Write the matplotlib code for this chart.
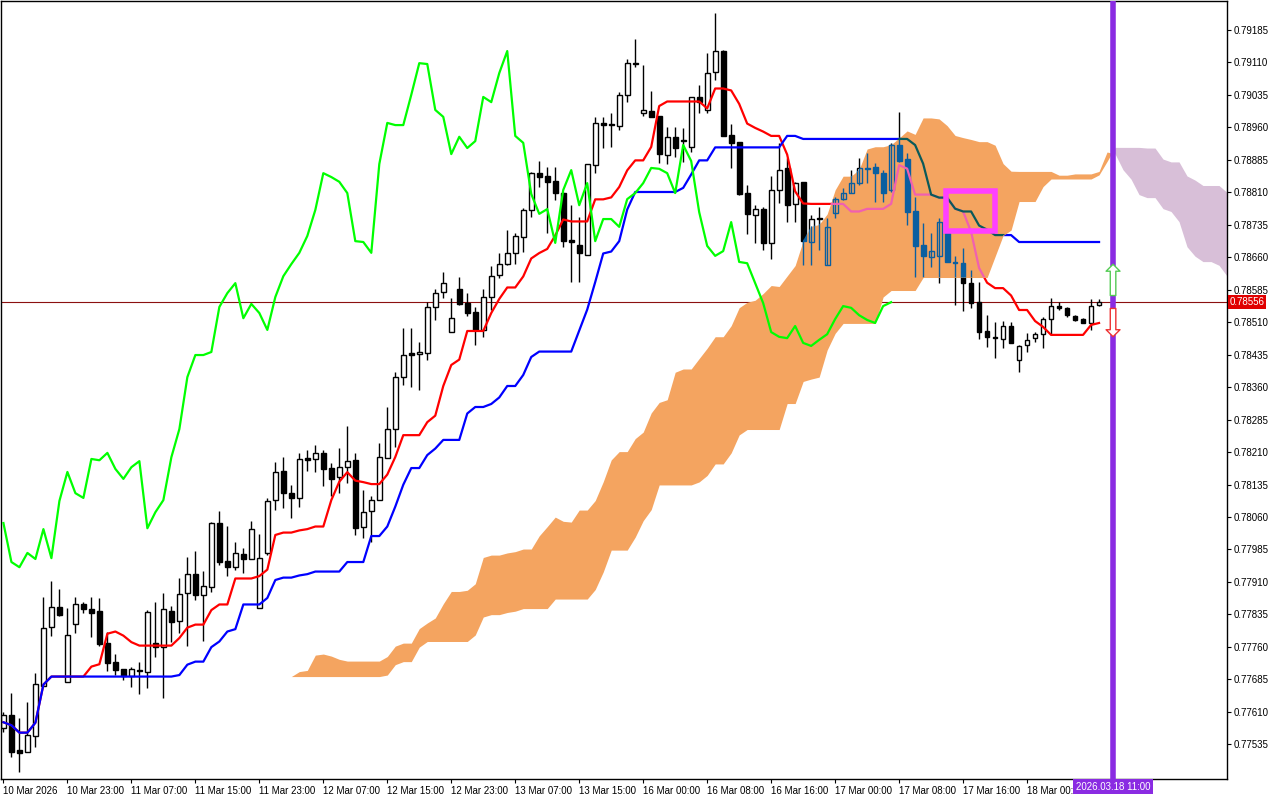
import numpy as np
import pandas as pd
import matplotlib
matplotlib.use("Agg")
import matplotlib.pyplot as plt
from matplotlib.path import Path
from matplotlib.patches import Rectangle

# hourly candles, prices in 1e-5 units
opens = [77572, 77602, 77521, 77517, 77554, 77669, 77806, 77852, 77679, 77813,
         77859, 77847, 77843, 77769, 77725, 77709, 77692, 77706, 77702, 77769,
         77759, 77843, 77819, 77884, 77928, 77880, 77898, 78046, 77958, 77944,
         77974, 77963, 77850, 77977, 78099, 78166, 78115, 78104, 78196, 78194,
         78208, 78173, 78152, 78175, 78191, 78037, 78074, 78099, 78196, 78263,
         78383, 78439, 78436, 78439, 78545, 78579, 78487, 78586, 78554, 78533,
         78492, 78568, 78619, 78644, 78670, 78707, 78769, 78854, 78847, 78836,
         78808, 78700, 78688, 78665, 78873, 78970, 78968, 78963, 79035, 79108,
         78993, 78998, 78986, 78896, 78938, 78931, 78914, 79030, 79000, 79088,
         79136, 78942, 78926, 78808, 78757, 78771, 78693, 78815, 78866, 78783,
         78834, 78695, 78750, 78642, 78762, 78794, 78808, 78831, 78866, 78868,
         78854, 78815, 78919, 78887, 78767, 78688, 78660, 78663, 78716, 78649,
         78646, 78600, 78556, 78489, 78476, 78471, 78501, 78422, 78457, 78473,
         78482, 78517, 78547, 78543, 78524, 78517, 78508, 78549]
highs = [77609, 77653, 77595, 77632, 77699, 77875, 77912, 77893, 77850, 77875,
         77863, 77875, 77873, 77794, 77743, 77709, 77713, 77725, 77845, 77863,
         77884, 77854, 77919, 77967, 77981, 77935, 78048, 78074, 78039, 78002,
         77988, 78050, 78020, 78104, 78187, 78198, 78134, 78208, 78214, 78226,
         78214, 78184, 78219, 78270, 78208, 78122, 78108, 78231, 78314, 78395,
         78496, 78496, 78464, 78556, 78586, 78626, 78566, 78614, 78577, 78545,
         78586, 78640, 78670, 78723, 78716, 78774, 78857, 78882, 78868, 78868,
         78810, 78780, 78753, 78875, 78984, 78984, 78993, 79041, 79118, 79164,
         79104, 79044, 78986, 78961, 78961, 78958, 79030, 79058, 79132, 79224,
         79138, 78968, 78926, 78827, 78780, 78776, 78847, 78924, 78889, 78834,
         78834, 78757, 78776, 78750, 78799, 78820, 78861, 78889, 78901, 78877,
         78861, 78924, 78995, 78901, 78799, 78739, 78716, 78750, 78716, 78663,
         78681, 78630, 78603, 78526, 78510, 78512, 78510, 78457, 78485, 78487,
         78522, 78566, 78556, 78545, 78526, 78519, 78563, 78563]
lows = [77563, 77505, 77471, 77517, 77528, 77669, 77785, 77831, 77679, 77792,
        77838, 77783, 77762, 77704, 77695, 77683, 77667, 77651, 77665, 77736,
        77642, 77771, 77792, 77762, 77868, 77773, 77886, 77949, 77923, 77937,
        77930, 77963, 77850, 77972, 78076, 78081, 78057, 78083, 78166, 78164,
        78131, 78108, 78115, 78138, 78018, 78011, 78002, 78099, 78196, 78221,
        78365, 78360, 78353, 78422, 78515, 78566, 78487, 78549, 78524, 78457,
        78476, 78538, 78612, 78642, 78644, 78672, 78753, 78822, 78716, 78792,
        78683, 78603, 78603, 78665, 78854, 78912, 78914, 78954, 79018, 79099,
        78986, 78984, 78877, 78875, 78891, 78880, 78903, 78993, 78993, 79069,
        78940, 78866, 78804, 78713, 78693, 78676, 78656, 78785, 78741, 78741,
        78642, 78642, 78676, 78642, 78750, 78792, 78808, 78827, 78831, 78787,
        78787, 78810, 78880, 78734, 78614, 78614, 78637, 78600, 78649, 78549,
        78536, 78543, 78471, 78452, 78427, 78450, 78462, 78395, 78441, 78464,
        78450, 78480, 78538, 78522, 78512, 78508, 78492, 78547]
closes = [77602, 77517, 77515, 77556, 77674, 77803, 77852, 77833, 77787, 77859,
          77847, 77838, 77766, 77722, 77706, 77692, 77709, 77704, 77840, 77759,
          77847, 77817, 77882, 77928, 77880, 77900, 78046, 77956, 77944, 77977,
          77963, 78032, 77965, 78097, 78164, 78115, 78104, 78194, 78191, 78208,
          78171, 78148, 78175, 78189, 78034, 78071, 78099, 78198, 78263, 78383,
          78434, 78434, 78441, 78545, 78577, 78600, 78519, 78552, 78531, 78492,
          78568, 78616, 78644, 78670, 78709, 78769, 78854, 78845, 78834, 78808,
          78697, 78695, 78670, 78875, 78970, 78965, 78965, 79035, 79108, 79106,
          79000, 78984, 78898, 78938, 78912, 78928, 79030, 79018, 79085, 79136,
          78940, 78924, 78806, 78760, 78771, 78693, 78815, 78861, 78780, 78831,
          78697, 78748, 78748, 78730, 78794, 78808, 78831, 78866, 78864, 78854,
          78808, 78919, 78882, 78764, 78686, 78663, 78674, 78741, 78649, 78646,
          78600, 78554, 78487, 78476, 78473, 78501, 78462, 78455, 78469, 78482,
          78517, 78547, 78543, 78526, 78515, 78508, 78547, 78556]

time_labels = ["10 Mar 2026", "10 Mar 23:00", "11 Mar 07:00", "11 Mar 15:00",
               "11 Mar 23:00", "12 Mar 07:00", "12 Mar 15:00", "12 Mar 23:00",
               "13 Mar 07:00", "13 Mar 15:00", "16 Mar 00:00", "16 Mar 08:00",
               "16 Mar 16:00", "17 Mar 00:00", "17 Mar 08:00", "17 Mar 16:00",
               "18 Mar 00:00"]
current_price = 0.78556
vline_bar = 138.75
vline_label = "2026.03.18 11:00"
box_bars = (117.8, 124.0)
box_prices = (0.78720, 0.78813)

plt.rcParams["font.family"] = ["Liberation Sans", "DejaVu Sans"]

df = pd.DataFrame({"o": opens, "h": highs, "l": lows, "c": closes}) / 1e5
n = len(df)
idx = np.arange(n)

tenkan = (df.h.rolling(9, min_periods=1).max() + df.l.rolling(9, min_periods=1).min()) / 2
kijun = (df.h.rolling(26, min_periods=1).max() + df.l.rolling(26, min_periods=1).min()) / 2
span_a = ((tenkan + kijun) / 2).values
span_b = ((df.h.rolling(52, min_periods=1).max() + df.l.rolling(52, min_periods=1).min()) / 2).values
span_x = idx + 26

fig = plt.figure(figsize=(12.8, 8), dpi=100)
ax = fig.add_axes([0.0008, 0.026, 0.9578, 0.973])
ax.set_xlim(-0.3, 153)
ax.set_ylim(0.774545, 0.79252)

ax.fill_between(span_x, span_a, span_b, where=span_a < span_b, interpolate=True,
                color="#D8BFD8", lw=0, zorder=1)
orange = ax.fill_between(span_x, span_a, span_b, where=span_a >= span_b, interpolate=True,
                         color="#F4A460", lw=0, zorder=3)
clip = Path.make_compound_path(*orange.get_paths())

ax.axhline(current_price, color="#8B1010", lw=0.8, zorder=1.5)


def draw_layer(black, white_face, red, blue, z, clip_path=None):
    bull = df.c >= df.o
    arts = []
    arts.append(ax.vlines(idx, df.l, df.h, color=black, lw=1, zorder=z))
    bottom = np.minimum(df.o, df.c)
    height = np.maximum((df.c - df.o).abs(), 0.000015)
    for mask, face in ((bull, white_face), (~bull, black)):
        bars = ax.bar(idx[mask], height[mask], bottom=bottom[mask], width=0.6,
                      facecolor=face, edgecolor=black, lw=1, zorder=z + 0.1)
        arts.extend(bars.patches)
    arts += ax.plot(idx, tenkan, color=red, lw=1.6, zorder=z + 0.2)
    arts += ax.plot(idx, kijun, color=blue, lw=1.6, zorder=z + 0.2)
    if clip_path is not None:
        for a in arts:
            a.set_clip_path(clip_path, ax.transData)


draw_layer("black", "white", "#FF0000", "#0000FF", 2)
draw_layer("#0A5FA0", "none", "#F060B0", "#0A5A5A", 4, clip)

# chikou span
ax.plot(idx[:-26], df.c.values[26:], color="#00FF00", lw=1.6, zorder=5)

ax.add_patch(Rectangle((box_bars[0], box_prices[0]), box_bars[1] - box_bars[0],
                       box_prices[1] - box_prices[0], fill=False,
                       edgecolor="#FF40FF", lw=4, zorder=6))

ax.axvline(vline_bar, color="#8A2BE2", lw=4, zorder=6)
ax.annotate("", xy=(vline_bar, 0.78650), xytext=(vline_bar, 0.78565),
            arrowprops=dict(arrowstyle="simple,head_width=1.0,tail_width=0.4",
                            fc="white", ec="#55CC55", lw=1), zorder=7)
ax.annotate("", xy=(vline_bar, 0.78470), xytext=(vline_bar, 0.78548),
            arrowprops=dict(arrowstyle="simple,head_width=1.0,tail_width=0.4",
                            fc="white", ec="#EE3333", lw=1), zorder=7)

# axes styling
yt = np.round(np.arange(0.77535, 0.7925, 0.00075), 5)
ax.yaxis.tick_right()
ax.set_yticks(yt)
ax.set_yticklabels([f"{v:.5f}" for v in yt], fontsize=7)
ax.set_xticks(np.arange(0, 8 * len(time_labels), 8))
ax.set_xticklabels(time_labels, fontsize=7, ha="left")
ax.tick_params(axis="both", length=3, pad=2, direction="out")
for s in ax.spines.values():
    s.set_linewidth(1)

ax.text(1.002, current_price, f"{current_price:.5f}", transform=ax.get_yaxis_transform(),
        fontsize=7, color="white", va="center", ha="left",
        bbox=dict(boxstyle="square,pad=0.2", fc="#E00000", ec="none"), zorder=8,
        clip_on=False)
ax.text(vline_bar, -0.003, vline_label, transform=ax.get_xaxis_transform(),
        fontsize=7, color="white", va="top", ha="center",
        bbox=dict(boxstyle="square,pad=0.25", fc="#8A2BE2", ec="none"), clip_on=False, zorder=8)

fig.savefig("out.png", dpi=100, facecolor="white")
